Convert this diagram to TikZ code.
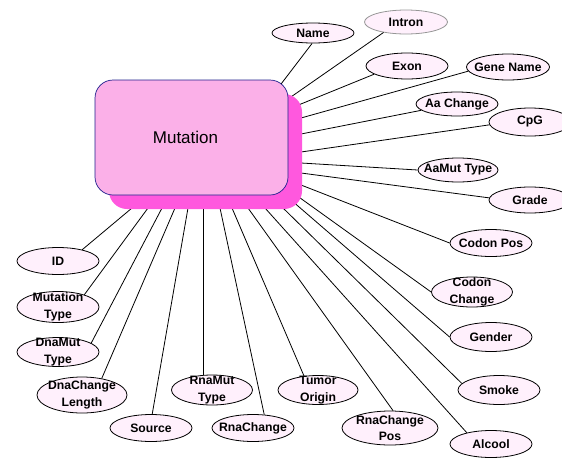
\documentclass[tikz,border=0pt]{standalone}
\usepackage{fontspec}
\setmainfont{Liberation Sans}
\usetikzlibrary{shapes.geometric}
\definecolor{attrfill}{RGB}{255,240,252}
\definecolor{boxfill}{RGB}{251,176,232}
\definecolor{boxshade}{RGB}{255,88,222}
\definecolor{boxedge}{RGB}{30,30,140}
\definecolor{softedge}{RGB}{150,150,150}
\begin{document}
\begin{tikzpicture}[x=1pt,y=-1pt,
  attrlabel/.style={inner sep=0pt,align=center,font=\fontsize{12.2}{16.5}\selectfont\bfseries},
  attr/.style={ellipse,draw=black,line width=0.8pt,fill=attrfill,inner sep=0pt,
    minimum width=82pt,minimum height=27pt,label={[attrlabel]center:#1}},
  link/.style={line width=0.8pt},
  entitybox/.style={rectangle,rounded corners=18pt,minimum width=193pt,minimum height=115pt,inner sep=0pt}]
\useasboundingbox (0,0) rectangle (562,458);

% attribute ellipses
\node[attr=Name,minimum height=20pt] (name) at (313,33) {};
\node[attr=Intron,draw=softedge,minimum width=83pt,minimum height=24pt] (intron) at (406,22) {};
\node[attr=Exon,minimum height=26pt] (exon) at (407,66) {};
\node[attr={Gene Name},minimum width=83pt,minimum height=26pt] (genename) at (508,67) {};
\node[attr={Aa Change},minimum height=24pt] (aachange) at (457,104) {};
\node[attr=CpG,minimum height=28pt] (cpg) at (530,122) {};
\node[attr={AaMut Type},minimum width=80pt,minimum height=24pt] (aamut) at (458,170) {};
\node[attr=Grade,minimum height=26pt] (grade) at (530,200) {};
\node[attr={Codon Pos}] (codonpos) at (491,243) {};
\node[attr={Codon\\Change},minimum width=81pt,minimum height=30pt] (codonch) at (472,292) {};
\node[attr=Gender,minimum height=29pt] (gender) at (491,337) {};
\node[attr=Smoke,minimum height=29pt] (smoke) at (499,390) {};
\node[attr=Alcool] (alcool) at (491,444) {};
\node[attr={RnaChange\\Pos},minimum width=96pt,minimum height=34pt] (rnachpos) at (390,428) {};
\node[attr={Tumor\\Origin},minimum width=80pt,minimum height=29pt] (tumor) at (318,390) {};
\node[attr=RnaChange] (rnach) at (253,428) {};
\node[attr={RnaMut\\Type},minimum width=81pt,minimum height=30pt] (rnamut) at (212,390) {};
\node[attr=Source] (source) at (151,428) {};
\node[attr={DnaChange\\Length},minimum width=90pt,minimum height=36pt] (dnach) at (82,395) {};
\node[attr={DnaMut\\Type},minimum height=29pt] (dnamut) at (58,352) {};
\node[attr={Mutation\\Type},minimum height=31pt] (muttype) at (58,307) {};
\node[attr=ID] (id) at (58,261) {};

% ports on the rim of the entity box
\foreach \n/\x/\y in {pName/278/88, pIntron/288/99, pExon/296/106, pGene/301/118,
    pAa/301/134, pCpG/301/152, pAaMut/301/163, pGrade/301/173, pCodonPos/301/185,
    pCodonCh/296/195, pGender/291/200, pSmoke/282/207, pAlcool/265/208,
    pRnaChPos/248/208, pTumor/232/208, pRnaCh/220/208, pRnaMut/203/208,
    pSource/188/208, pDnaCh/175/208, pDnaMut/162/208, pMutType/148/208, pID/132/208}
  \coordinate (\n) at (\x,\y);

% connectors
\foreach \p/\t in {pName/name.-95, pIntron/intron.205, pExon/exon.194, pGene/genename.186,
    pAa/aachange.190, pCpG/cpg.184, pAaMut/aamut.west, pGrade/grade.177,
    pCodonPos/codonpos.west, pCodonCh/codonch.west, pGender/gender.west,
    pSmoke/smoke.170, pAlcool/alcool.155, pRnaChPos/rnachpos.80, pTumor/tumor.135,
    pRnaCh/rnach.50, pSource/source.85, pDnaCh/dnach.40, pDnaMut/dnamut.15,
    pMutType/muttype.25, pID/id.25}
  \draw[link] (\p) -- (\t);
\draw[link] (pRnaMut) -- (pRnaMut |- rnamut.north);

% entity box with its drop shadow
\node[entitybox,fill=boxshade] (shade) at (205.5,151.5) {};
\node[entitybox,fill=boxfill,draw=boxedge,line width=0.7pt,
  label={[xshift=-6pt,font=\fontsize{17}{20}\selectfont]center:Mutation}] (mutation) at (191.5,137.5) {};
\end{tikzpicture}
\end{document}
